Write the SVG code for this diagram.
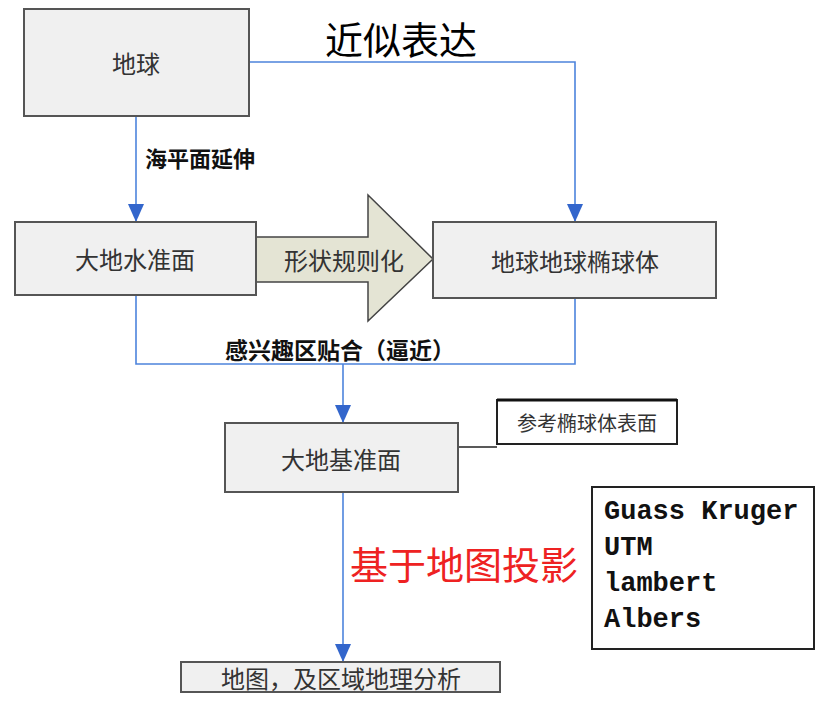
<svg xmlns="http://www.w3.org/2000/svg" width="833" height="703" viewBox="0 0 833 703">
<style>
.box{fill:#f0f0f0;stroke:#555;stroke-width:2}
.wbox{fill:#fff;stroke:#222;stroke-width:2}
.t{font-family:"Noto Sans CJK SC","Liberation Sans",sans-serif;fill:#333;text-anchor:middle;dominant-baseline:central}
.lbl{font-family:"Noto Sans CJK SC","Liberation Sans",sans-serif;fill:#111;font-weight:bold;dominant-baseline:central}
.con{fill:none;stroke:#4d84dc;stroke-width:1.6}
.mono{font-family:"Liberation Mono",monospace;font-size:27px;fill:#111;font-weight:bold}
</style>
<defs>
<marker id="ah" markerWidth="18" markerHeight="16" refX="18" refY="8" orient="auto" markerUnits="userSpaceOnUse" viewBox="0 0 18 16">
<path d="M0,0 L18,8 L0,16 Z" fill="#3366cc"/>
</marker>
</defs>

<g id="connectors">
<path class="con" d="M136,116 V222" marker-end="url(#ah)"/>
<path class="con" d="M249,62 H575 V222" marker-end="url(#ah)"/>
<path class="con" d="M136,295 V364 H575 V298"/>
<path class="con" d="M343,364 V423" marker-end="url(#ah)"/>
<path class="con" d="M343,492 V662" marker-end="url(#ah)"/>
<path d="M458,447 H497" stroke="#222" stroke-width="1.5"/>
</g>

<g id="bigarrow">
<path d="M256,237 H368 V195 L433,259 L368,321 V282 H256 Z" fill="#e4e4d4" stroke="#444" stroke-width="1.5"/>
<text class="t" x="344" y="259" font-size="24">形状规则化</text>
</g>

<g id="earth">
<rect class="box" x="24" y="9" width="225" height="107"/>
<text class="t" x="136" y="62" font-size="24">地球</text>
</g>

<g id="geoid">
<rect class="box" x="15" y="222" width="241" height="73"/>
<text class="t" x="135" y="258" font-size="24">大地水准面</text>
</g>

<g id="ellipsoid">
<rect class="box" x="433" y="222" width="283" height="76"/>
<text class="t" x="575" y="260" font-size="24">地球地球椭球体</text>
</g>

<g id="datum">
<rect class="box" x="225" y="423" width="233" height="69"/>
<text class="t" x="341" y="458" font-size="24">大地基准面</text>
</g>

<g id="refsurface">
<rect class="wbox" x="497" y="400" width="180" height="44"/>
<line x1="497" y1="400" x2="677" y2="400" stroke="#111" stroke-width="3"/>
<text class="t" x="587" y="422" font-size="20" fill="#111">参考椭球体表面</text>
</g>

<g id="map">
<rect class="box" x="181" y="662" width="319" height="30"/>
<text class="t" x="341" y="677" font-size="24">地图，及区域地理分析</text>
</g>

<g id="projlist">
<rect class="wbox" x="592" y="487" width="222" height="162"/>
<text class="mono" x="604" y="519">Guass Kruger</text>
<text class="mono" x="604" y="555">UTM</text>
<text class="mono" x="604" y="591">lambert</text>
<text class="mono" x="604" y="627">Albers</text>
</g>

<g id="labels">
<text class="lbl" x="145" y="157" font-size="22">海平面延伸</text>
<text class="lbl" x="225" y="349" font-size="23">感兴趣区贴合（逼近）</text>
<text x="325" y="37" font-size="38" font-family="Noto Sans CJK SC,sans-serif" fill="#000" dominant-baseline="central">近似表达</text>
<text x="350" y="562" font-size="38" font-family="Noto Sans CJK SC,sans-serif" fill="#ee2222" dominant-baseline="central">基于地图投影</text>
</g>
</svg>
